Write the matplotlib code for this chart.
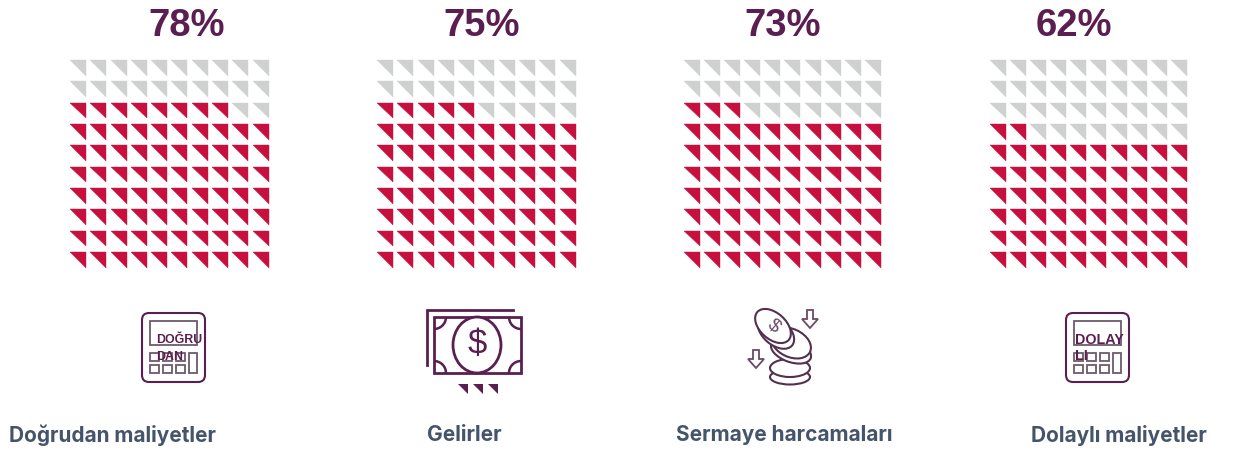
import matplotlib
matplotlib.use('Agg')
import matplotlib.pyplot as plt
from matplotlib.patches import Polygon, FancyBboxPatch, Rectangle, Ellipse, Arc

percents = [78, 75, 73, 62]
labels = ['Doğrudan maliyetler', 'Gelirler', 'Sermaye harcamaları', 'Dolaylı maliyetler']
icon_words = [['DOĞRU', 'DAN'], None, None, ['DOLAY', 'LI']]

grid_left = [70, 377, 684, 990]
grid_pitch = [20.3, 20.3, 20.1, 20.1]
title_x = [187, 482, 783, 1074]
label_x = [112.5, 464, 784, 1119]

PURPLE = '#5a1f50'
RED = '#c8103f'
GREY = '#cfd1d1'
SLATE = '#44546a'

fig = plt.figure(figsize=(12.43, 4.53), dpi=100)
ax = fig.add_axes([0, 0, 1, 1])
ax.set_xlim(0, 1243)
ax.set_ylim(453, 0)
ax.axis('off')


def triangles(x0, pitch, pct):
    for row in range(10):
        for col in range(10):
            # filled from the bottom row up, left to right
            filled = (9 - row) * 10 + col < pct
            x = x0 + col * pitch
            y = 60 + row * 21.35
            color = RED if filled else GREY
            ax.add_patch(Polygon([(x, y), (x + 16, y), (x + 16, y + 15.5)], closed=True,
                                 fc=color, ec=color, lw=0.3))


def calculator(x0, words, text_dx, size):
    ax.add_patch(FancyBboxPatch((x0 + 4, 317), 55, 61, boxstyle='round,pad=4,rounding_size=7',
                                fc='white', ec=PURPLE, lw=1.5))
    ax.add_patch(Rectangle((x0 + 8, 321), 47, 24, fc='none', ec='#6d5a6b', lw=1.3))
    for y in [353, 365]:
        for c in range(3):
            ax.add_patch(Rectangle((x0 + 8 + c * 13, y), 9.5, 8, fc='none', ec='#6d5a6b', lw=1.3))
    ax.add_patch(Rectangle((x0 + 47, 353), 8, 20, fc='none', ec='#6d5a6b', lw=1.3))
    ax.text(x0 + text_dx, 340, words[0], fontsize=size, fontweight='bold', color=PURPLE,
            family='Liberation Sans', va='center')
    ax.text(x0 + text_dx, 356.5, words[1], fontsize=size, fontweight='bold', color=PURPLE,
            family='Liberation Sans', va='center')


def money():
    ax.plot([427.5, 427.5, 513], [365, 310, 310], color=PURPLE, lw=2, solid_joinstyle='miter')
    ax.add_patch(Rectangle((434, 317), 87, 56, fc='white', ec=PURPLE, lw=2))
    ax.add_patch(Ellipse((477, 345), 48, 56, fc='white', ec=PURPLE, lw=2))
    ax.text(477, 345, '$', fontsize=25, color=PURPLE, ha='center', va='center', family='Liberation Sans')
    for cx, cy, a1, a2 in [(434, 317, 0, 90), (521, 317, 90, 180), (434, 373, 270, 360), (521, 373, 180, 270)]:
        ax.add_patch(Arc((cx, cy), 24, 24, theta1=a1, theta2=a2, ec=PURPLE, lw=1.8))
    for x in [458, 473, 488]:
        ax.add_patch(Polygon([(x, 384), (x + 10, 384), (x + 10, 394)], closed=True, fc=PURPLE, ec='none'))


def arrow(cx, cy):
    pts = [(cx - 3, cy - 9), (cx + 3, cy - 9), (cx + 3, cy), (cx + 8, cy),
           (cx, cy + 9), (cx - 8, cy), (cx - 3, cy)]
    ax.add_patch(Polygon(pts, closed=True, fc='white', ec='#6d4a66', lw=1.3))


def coins():
    line = dict(fc='white', ec='#54304f', lw=1.5)
    ax.add_patch(Ellipse((790, 377), 40, 15, **line))
    ax.add_patch(Ellipse((790, 368), 40, 18, **line))
    ax.add_patch(Ellipse((791, 351), 42, 22, angle=20, **line))
    ax.add_patch(Ellipse((791, 343), 42, 28, angle=25, **line))
    ax.add_patch(Ellipse((776, 332), 42, 26, angle=40, **line))
    ax.add_patch(Ellipse((773, 326), 42, 26, angle=42, **line))
    ax.text(774, 326, '$', fontsize=14, rotation=-40, color='#6d4a66', ha='center', va='center',
            family='Liberation Sans')
    arrow(810, 319)
    arrow(756, 359)


for i in range(4):
    triangles(grid_left[i], grid_pitch[i], percents[i])
    ax.text(title_x[i], 26, f'{percents[i]}%', fontsize=27.5, fontweight='bold', color=PURPLE,
            ha='center', va='center', family='Liberation Sans')
    ax.text(label_x[i], 435, labels[i], fontsize=15, fontweight='bold', color=SLATE,
            ha='center', va='center', family='Inter')

calculator(142, icon_words[0], 14, 8.9)
money()
coins()
calculator(1066, icon_words[3], 9, 10.3)

fig.savefig('out.png', dpi=100)
plt.close(fig)
